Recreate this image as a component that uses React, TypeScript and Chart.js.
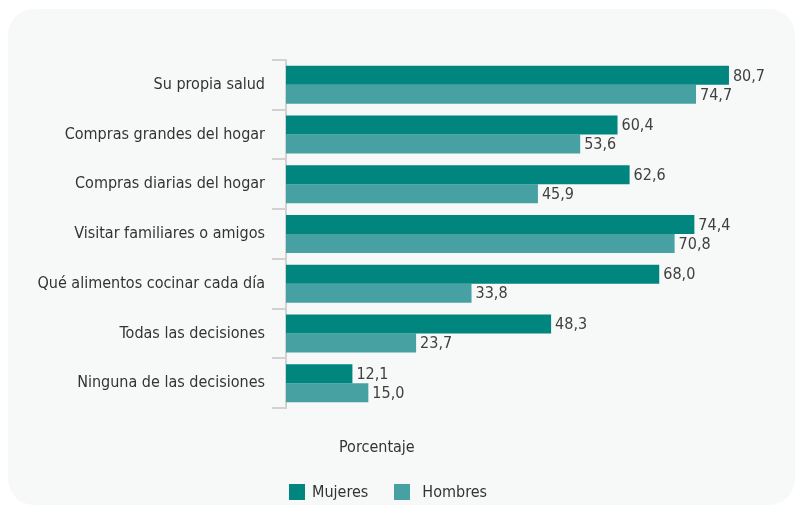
import React, { useEffect, useRef } from "react";
import { Chart, registerables } from "chart.js";

Chart.register(...registerables);

const categories = [
  "Su propia salud",
  "Compras grandes del hogar",
  "Compras diarias del hogar",
  "Visitar familiares o amigos",
  "Qué alimentos cocinar cada día",
  "Todas las decisiones",
  "Ninguna de las decisiones",
];
const mujeres = [80.7, 60.4, 62.6, 74.4, 68.0, 48.3, 12.1];
const hombres = [74.7, 53.6, 45.9, 70.8, 33.8, 23.7, 15.0];
const seriesNames = ["Mujeres", "Hombres"];
const seriesColors = ["#00857f", "#47a0a2"];
const axisTitle = "Porcentaje";

const FONT = '"DejaVu Sans Condensed", "Liberation Sans Narrow", "Roboto", sans-serif';
const FS = 16;
const fmt = (v: number) => v.toFixed(1).replace(".", ",");

const valueLabels = {
  id: "valueLabels",
  afterDatasetsDraw(chart: any) {
    const ctx = chart.ctx;
    ctx.save();
    ctx.font = `${FS}px ${FONT}`;
    ctx.fillStyle = "#404040";
    ctx.textAlign = "left";
    ctx.textBaseline = "middle";
    chart.data.datasets.forEach((ds: any, i: number) => {
      const meta = chart.getDatasetMeta(i);
      meta.data.forEach((el: any, j: number) => {
        ctx.fillText(fmt(ds.data[j]), el.x + 4, el.y + 1);
      });
    });
    ctx.restore();
  },
};

export default function App() {
  const ref = useRef<HTMLCanvasElement>(null);
  useEffect(() => {
    if (!ref.current) return;
    const chart = new Chart(ref.current, {
      type: "bar",
      data: {
        labels: categories,
        datasets: [
          { label: seriesNames[0], data: mujeres, backgroundColor: seriesColors[0], barPercentage: 1, categoryPercentage: 0.765 },
          { label: seriesNames[1], data: hombres, backgroundColor: seriesColors[1], barPercentage: 1, categoryPercentage: 0.765 },
        ],
      },
      options: {
        indexAxis: "y",
        animation: false,
        responsive: false,
        events: [],
        layout: { padding: { top: 51, bottom: 97, right: 15, left: 0 } },
        plugins: { legend: { display: false }, tooltip: { enabled: false } },
        scales: {
          x: { display: false, min: 0, max: 90 },
          y: {
            afterFit: (s: any) => { s.width = 278; },
            border: { display: true, color: "#d2d2d2", width: 2 },
            grid: { drawOnChartArea: false, drawTicks: true, tickLength: 14, color: "#d2d2d2", lineWidth: 2, offset: true },
            ticks: { color: "#333333", padding: 7, font: { family: FONT, size: FS } },
          },
        },
      },
      plugins: [valueLabels],
    });
    return () => chart.destroy();
  }, []);

  return (
    <div style={{ position: "fixed", left: 8, top: 9, width: 787, height: 496, borderRadius: 26, background: "#f7f9f9", fontFamily: FONT, color: "#333" }}>
      <canvas ref={ref} width={787} height={496} style={{ position: "absolute", left: 0, top: 0, width: 787, height: 496 }} />
      <div style={{ position: "absolute", left: 331, top: 428, fontSize: FS, lineHeight: "20px" }}>{axisTitle}</div>
      <div style={{ position: "absolute", left: 281, top: 474, display: "flex", alignItems: "center", fontSize: FS, lineHeight: "18px" }}>
        {seriesNames.map((n, i) => (
          <div key={n} style={{ display: "flex", alignItems: "center", marginRight: i === 0 ? 26 : 0 }}>
            <span style={{ width: 16, height: 16, background: seriesColors[i], display: "inline-block", marginRight: i === 0 ? 7 : 12 }} />
            <span>{n}</span>
          </div>
        ))}
      </div>
    </div>
  );
}
